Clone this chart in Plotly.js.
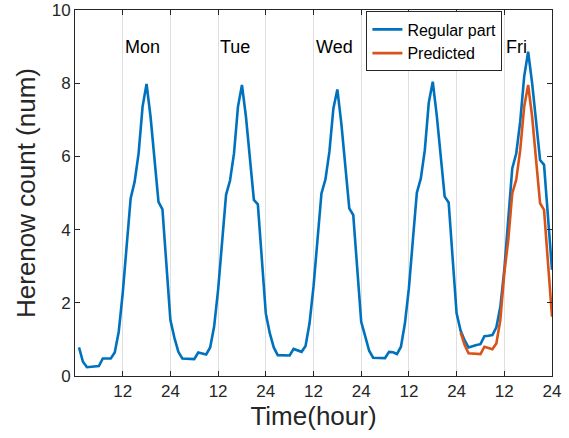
<!DOCTYPE html>
<html>
<head>
<meta charset="utf-8">
<script src="https://cdn.plot.ly/plotly-3.0.1.min.js"></script>
<style>html,body{margin:0;padding:0;background:#fff;} #chart{width:569px;height:438px;}</style>
</head>
<body>
<div id="chart"></div>
<script>
// hours 1..120
const hours = Array.from({length:120}, (_, i) => i + 1);
const regularPart = [
  0.78, 0.39, 0.24, 0.25, 0.26, 0.27, 0.48, 0.48, 0.48, 0.64, 1.21, 2.26, 3.62, 4.85, 5.31, 6.08, 7.36, 7.98, 7.09, 5.99, 4.76, 4.55, 2.99, 1.53,
  1.05, 0.66, 0.48, 0.48, 0.48, 0.46, 0.64, 0.62, 0.59, 0.78, 1.35, 2.35, 3.72, 4.95, 5.34, 6.08, 7.36, 7.95, 7.09, 5.99, 4.81, 4.69, 3.17, 1.71,
  1.17, 0.78, 0.57, 0.57, 0.57, 0.56, 0.74, 0.71, 0.66, 0.82, 1.44, 2.44, 3.72, 4.99, 5.37, 6.13, 7.31, 7.83, 6.90, 5.81, 4.58, 4.40, 2.99, 1.48,
  1.09, 0.69, 0.50, 0.50, 0.50, 0.49, 0.66, 0.65, 0.60, 0.80, 1.44, 2.40, 3.72, 5.01, 5.40, 6.17, 7.47, 8.04, 7.13, 6.04, 4.90, 4.74, 3.17, 1.71,
  1.24, 0.98, 0.78, 0.82, 0.85, 0.87, 1.09, 1.10, 1.12, 1.33, 1.89, 2.90, 4.35, 5.67, 6.08, 6.95, 8.18, 8.86, 8.00, 6.90, 5.90, 5.77, 4.44, 2.90
];
const predHours = Array.from({length:24}, (_, i) => i + 97);
const predicted = [
  1.19, 0.85, 0.62, 0.62, 0.62, 0.60, 0.80, 0.76, 0.73, 0.89, 1.53, 2.81, 3.72, 4.99, 5.36, 6.17, 7.36, 7.95, 7.09, 5.90, 4.72, 4.54, 2.99, 1.62
];
const tickVals = [12, 24, 36, 48, 60, 72, 84, 96, 108, 120];
const tickText = ['12', '24', '12', '24', '12', '24', '12', '24', '12', '24'];
const dayLabels = ['Mon', 'Tue', 'Wed', 'Fri'];
const dayLabelX = [12, 36, 60, 108];
const dayLabelY = 9;

const font = 'Liberation Sans, Arial, Helvetica, sans-serif';

const traces = [
  {x: hours, y: regularPart, type: 'scatter', mode: 'lines', name: 'Regular part',
   line: {color: '#0072BD', width: 2.6}},
  {x: predHours, y: predicted, type: 'scatter', mode: 'lines', name: 'Predicted',
   line: {color: '#D95319', width: 2.6}}
];

const annotations = dayLabels.map((t, i) => ({
  x: dayLabelX[i], y: dayLabelY, xref: 'x', yref: 'y', text: t, showarrow: false,
  xanchor: 'left', yanchor: 'middle', font: {family: font, size: 18, color: '#000'}
}));

const layout = {
  width: 569, height: 438,
  margin: {l: 75, r: 17, t: 10, b: 62},
  paper_bgcolor: '#fff', plot_bgcolor: '#fff',
  showlegend: true,
  legend: {x: 0.896, y: 0.996, xanchor: 'right', yanchor: 'top',
    bgcolor: '#fff', bordercolor: '#262626', borderwidth: 1,
    font: {family: font, size: 16, color: '#000'}, itemwidth: 30, tracegroupgap: 0},
  xaxis: {range: [0, 120], tickvals: tickVals, ticktext: tickText,
    showgrid: true, gridcolor: '#dfdfdf', gridwidth: 1, zeroline: false,
    showline: true, linecolor: '#262626', linewidth: 1, mirror: 'ticks',
    ticks: 'inside', ticklen: 5, tickcolor: '#262626',
    tickfont: {family: font, size: 17, color: '#262626'},
    title: {text: 'Time(hour)', font: {family: font, size: 26, color: '#262626'}, standoff: 6}},
  yaxis: {range: [0, 10], dtick: 2, showgrid: false, zeroline: false,
    showline: true, linecolor: '#262626', linewidth: 1, mirror: 'ticks',
    ticks: 'inside', ticklen: 5, tickcolor: '#262626',
    tickfont: {family: font, size: 17, color: '#262626'},
    title: {text: 'Herenow count (num)', font: {family: font, size: 26, color: '#262626'}, standoff: 8}},
  annotations: annotations
};

Plotly.newPlot('chart', traces, layout, {displayModeBar: false, staticPlot: true});
</script>
</body>
</html>
